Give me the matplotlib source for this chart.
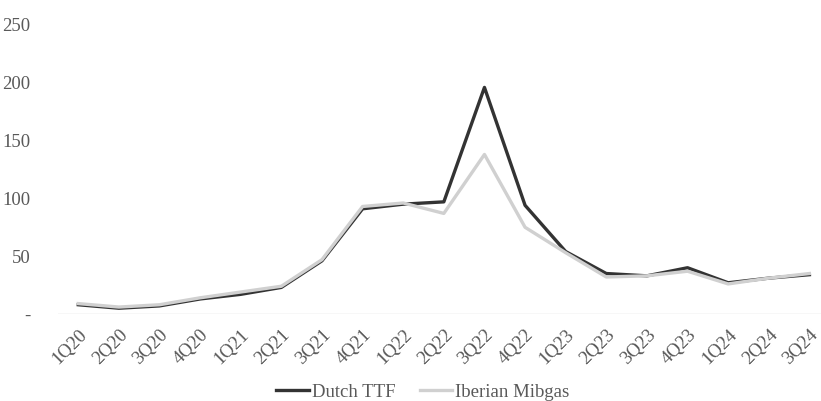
import matplotlib
matplotlib.use("Agg")
import matplotlib.pyplot as plt
from matplotlib.ticker import FuncFormatter

# Quarterly gas hub prices
quarters = ["1Q20", "2Q20", "3Q20", "4Q20", "1Q21", "2Q21", "3Q21", "4Q21", "1Q22", "2Q22",
            "3Q22", "4Q22", "1Q23", "2Q23", "3Q23", "4Q23", "1Q24", "2Q24", "3Q24"]
dutch_ttf = [8, 5, 7, 13, 17, 23, 46, 91, 95, 97, 196, 94, 54, 35, 33, 40, 27, 31, 34]
iberian_mibgas = [9, 6, 8, 14, 19, 24, 47, 93, 96, 87, 138, 75, 53, 32, 33, 37, 26, 31, 35]

plt.rcParams['font.family'] = ['Liberation Serif', 'DejaVu Serif']
text_col = '#595959'

fig = plt.figure(figsize=(8.21, 4.01), dpi=100)
ax = fig.add_axes([0.0706, 0.217, 0.940, 0.7207])

x = range(len(quarters))
ax.plot(x, dutch_ttf, color='#333333', linewidth=2.4, label='Dutch TTF', zorder=2)
ax.plot(x, iberian_mibgas, color='#d0d0d0', linewidth=2.4, label='Iberian Mibgas', zorder=3)

ax.set_xlim(-0.5, len(quarters) - 0.5)
ax.set_ylim(0, 250)
ax.set_yticks([0, 50, 100, 150, 200, 250])
ax.yaxis.set_major_formatter(FuncFormatter(lambda v, p: '-' if v == 0 else f'{v:.0f}'))

# Only the zero line is shown
for s in ax.spines.values():
    s.set_visible(False)
ax.axhline(0, color='#d9d9d9', linewidth=1, zorder=1)

ax.set_xticks(list(x))
ax.set_xticklabels(quarters, rotation=45, ha='right', va='top', rotation_mode='anchor')
ax.tick_params(axis='both', length=0, labelsize=13.5, labelcolor=text_col)
ax.tick_params(axis='y', pad=20)
ax.tick_params(axis='x', pad=9)

leg = fig.legend(loc='center', bbox_to_anchor=(0.515, 0.022), ncol=2, frameon=False,
                 fontsize=13.5, handlelength=1.75, handletextpad=0.15, columnspacing=1.3)
for t in leg.get_texts():
    t.set_color(text_col)

fig.savefig('out.png', dpi=100)
